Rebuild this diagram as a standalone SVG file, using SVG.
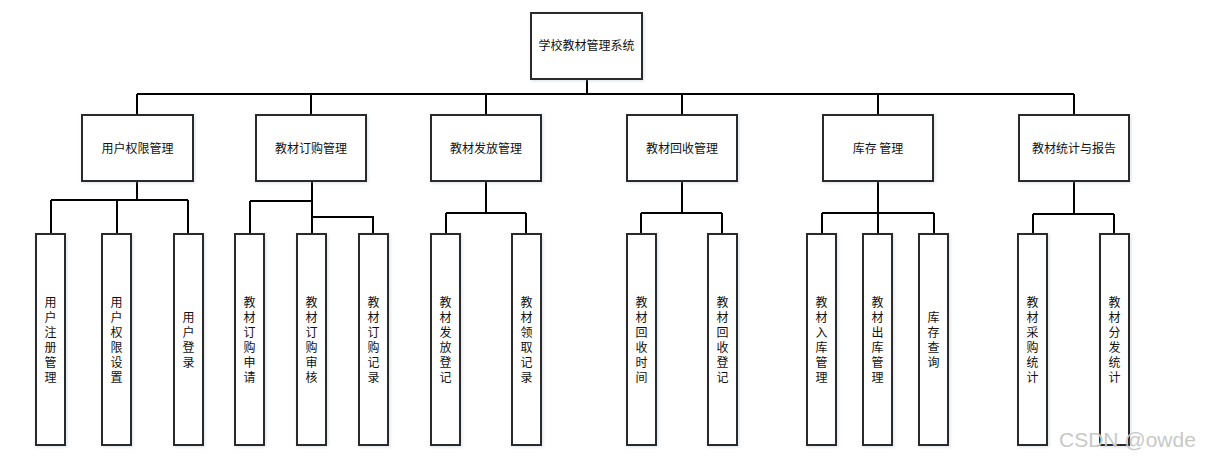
<svg xmlns="http://www.w3.org/2000/svg" width="1205" height="459" viewBox="0 0 1205 459">
<style>
.box{fill:#fff;stroke:#2b2b2b;stroke-width:2}
.ln{fill:none;stroke:#000;stroke-width:2}
.t{font-family:"Noto Sans CJK SC","Microsoft YaHei",sans-serif;font-size:12px;fill:#111;text-anchor:middle}
.wm{font-family:"Liberation Sans",Arial,sans-serif;font-size:21px;fill:#c8c8c8}
</style>
<defs>
<filter id="sh" x="-20%" y="-20%" width="140%" height="140%">
<feDropShadow dx="1" dy="1" stdDeviation="1.5" flood-color="#9ab" flood-opacity="0.35"/>
</filter>
</defs>
<rect width="1205" height="459" fill="#fff"/>
<g id="connectors">
<path class="ln" d="M587,79V94M137,94H1074M137,94V115M311,94V115M486,94V115M682,94V115M878,94V115M1074,94V115"/>
<path class="ln" d="M137,181V200M51,200H188M51,200V234M117,200V234M188,200V234"/>
<path class="ln" d="M312,181V234M250,201H312M250,201V234M312,217H373V234"/>
<path class="ln" d="M486,181V213M446,213H526M446,213V234M526,213V234"/>
<path class="ln" d="M682,181V213M641,213H722M641,213V234M722,213V234"/>
<path class="ln" d="M878,181V213M822,213H934M822,213V234M878,213V234M934,213V234"/>
<path class="ln" d="M1074,181V214M1033,214H1114M1033,214V234M1114,214V234"/>
</g>
<g id="root"><rect class="box" filter="url(#sh)" x="531" y="13" width="111" height="66"/><text class="t" x="586.5" y="50">学校教材管理系统</text></g>
<g id="n1"><rect class="box" filter="url(#sh)" x="82" y="115" width="111" height="66"/><text class="t" x="137.5" y="153">用户权限管理</text></g>
<g id="n2"><rect class="box" filter="url(#sh)" x="256" y="115" width="110" height="66"/><text class="t" x="311" y="153">教材订购管理</text></g>
<g id="n3"><rect class="box" filter="url(#sh)" x="431" y="115" width="110" height="66"/><text class="t" x="486" y="153">教材发放管理</text></g>
<g id="n4"><rect class="box" filter="url(#sh)" x="627" y="115" width="110" height="66"/><text class="t" x="682" y="153">教材回收管理</text></g>
<g id="n5"><rect class="box" filter="url(#sh)" x="823" y="115" width="110" height="66"/><text class="t" x="878" y="153">库存 管理</text></g>
<g id="n6"><rect class="box" filter="url(#sh)" x="1019" y="115" width="110" height="66"/><text class="t" x="1074" y="153">教材统计与报告</text></g>

<g id="l1"><rect class="box" filter="url(#sh)" x="36" y="234" width="29" height="211"/><text class="t" y="307"><tspan x="50.5">用</tspan><tspan x="50.5" dy="15">户</tspan><tspan x="50.5" dy="15">注</tspan><tspan x="50.5" dy="15">册</tspan><tspan x="50.5" dy="15">管</tspan><tspan x="50.5" dy="15">理</tspan></text></g>
<g id="l2"><rect class="box" filter="url(#sh)" x="102" y="234" width="29" height="211"/><text class="t" y="307"><tspan x="116.5">用</tspan><tspan x="116.5" dy="15">户</tspan><tspan x="116.5" dy="15">权</tspan><tspan x="116.5" dy="15">限</tspan><tspan x="116.5" dy="15">设</tspan><tspan x="116.5" dy="15">置</tspan></text></g>
<g id="l3"><rect class="box" filter="url(#sh)" x="174" y="234" width="29" height="211"/><text class="t" y="322"><tspan x="188.5">用</tspan><tspan x="188.5" dy="15">户</tspan><tspan x="188.5" dy="15">登</tspan><tspan x="188.5" dy="15">录</tspan></text></g>

<g id="l4"><rect class="box" filter="url(#sh)" x="235" y="234" width="29" height="211"/><text class="t" y="307"><tspan x="249.5">教</tspan><tspan x="249.5" dy="15">材</tspan><tspan x="249.5" dy="15">订</tspan><tspan x="249.5" dy="15">购</tspan><tspan x="249.5" dy="15">申</tspan><tspan x="249.5" dy="15">请</tspan></text></g>
<g id="l5"><rect class="box" filter="url(#sh)" x="297" y="234" width="29" height="211"/><text class="t" y="307"><tspan x="311.5">教</tspan><tspan x="311.5" dy="15">材</tspan><tspan x="311.5" dy="15">订</tspan><tspan x="311.5" dy="15">购</tspan><tspan x="311.5" dy="15">审</tspan><tspan x="311.5" dy="15">核</tspan></text></g>
<g id="l6"><rect class="box" filter="url(#sh)" x="359" y="234" width="29" height="211"/><text class="t" y="307"><tspan x="373.5">教</tspan><tspan x="373.5" dy="15">材</tspan><tspan x="373.5" dy="15">订</tspan><tspan x="373.5" dy="15">购</tspan><tspan x="373.5" dy="15">记</tspan><tspan x="373.5" dy="15">录</tspan></text></g>

<g id="l7"><rect class="box" filter="url(#sh)" x="431" y="234" width="29" height="211"/><text class="t" y="307"><tspan x="445.5">教</tspan><tspan x="445.5" dy="15">材</tspan><tspan x="445.5" dy="15">发</tspan><tspan x="445.5" dy="15">放</tspan><tspan x="445.5" dy="15">登</tspan><tspan x="445.5" dy="15">记</tspan></text></g>
<g id="l8"><rect class="box" filter="url(#sh)" x="512" y="234" width="29" height="211"/><text class="t" y="307"><tspan x="526.5">教</tspan><tspan x="526.5" dy="15">材</tspan><tspan x="526.5" dy="15">领</tspan><tspan x="526.5" dy="15">取</tspan><tspan x="526.5" dy="15">记</tspan><tspan x="526.5" dy="15">录</tspan></text></g>

<g id="l9"><rect class="box" filter="url(#sh)" x="627" y="234" width="29" height="211"/><text class="t" y="307"><tspan x="641.5">教</tspan><tspan x="641.5" dy="15">材</tspan><tspan x="641.5" dy="15">回</tspan><tspan x="641.5" dy="15">收</tspan><tspan x="641.5" dy="15">时</tspan><tspan x="641.5" dy="15">间</tspan></text></g>
<g id="l10"><rect class="box" filter="url(#sh)" x="708" y="234" width="29" height="211"/><text class="t" y="307"><tspan x="722.5">教</tspan><tspan x="722.5" dy="15">材</tspan><tspan x="722.5" dy="15">回</tspan><tspan x="722.5" dy="15">收</tspan><tspan x="722.5" dy="15">登</tspan><tspan x="722.5" dy="15">记</tspan></text></g>

<g id="l11"><rect class="box" filter="url(#sh)" x="807" y="234" width="29" height="211"/><text class="t" y="307"><tspan x="821.5">教</tspan><tspan x="821.5" dy="15">材</tspan><tspan x="821.5" dy="15">入</tspan><tspan x="821.5" dy="15">库</tspan><tspan x="821.5" dy="15">管</tspan><tspan x="821.5" dy="15">理</tspan></text></g>
<g id="l12"><rect class="box" filter="url(#sh)" x="863" y="234" width="29" height="211"/><text class="t" y="307"><tspan x="877.5">教</tspan><tspan x="877.5" dy="15">材</tspan><tspan x="877.5" dy="15">出</tspan><tspan x="877.5" dy="15">库</tspan><tspan x="877.5" dy="15">管</tspan><tspan x="877.5" dy="15">理</tspan></text></g>
<g id="l13"><rect class="box" filter="url(#sh)" x="919" y="234" width="29" height="211"/><text class="t" y="322"><tspan x="933.5">库</tspan><tspan x="933.5" dy="15">存</tspan><tspan x="933.5" dy="15">查</tspan><tspan x="933.5" dy="15">询</tspan></text></g>

<g id="l14"><rect class="box" filter="url(#sh)" x="1018" y="234" width="29" height="211"/><text class="t" y="307"><tspan x="1032.5">教</tspan><tspan x="1032.5" dy="15">材</tspan><tspan x="1032.5" dy="15">采</tspan><tspan x="1032.5" dy="15">购</tspan><tspan x="1032.5" dy="15">统</tspan><tspan x="1032.5" dy="15">计</tspan></text></g>
<g id="l15"><rect class="box" filter="url(#sh)" x="1100" y="234" width="29" height="211"/><text class="t" y="307"><tspan x="1114.5">教</tspan><tspan x="1114.5" dy="15">材</tspan><tspan x="1114.5" dy="15">分</tspan><tspan x="1114.5" dy="15">发</tspan><tspan x="1114.5" dy="15">统</tspan><tspan x="1114.5" dy="15">计</tspan></text></g>

<text class="wm" x="1059" y="447">CSDN @owde</text>
</svg>
